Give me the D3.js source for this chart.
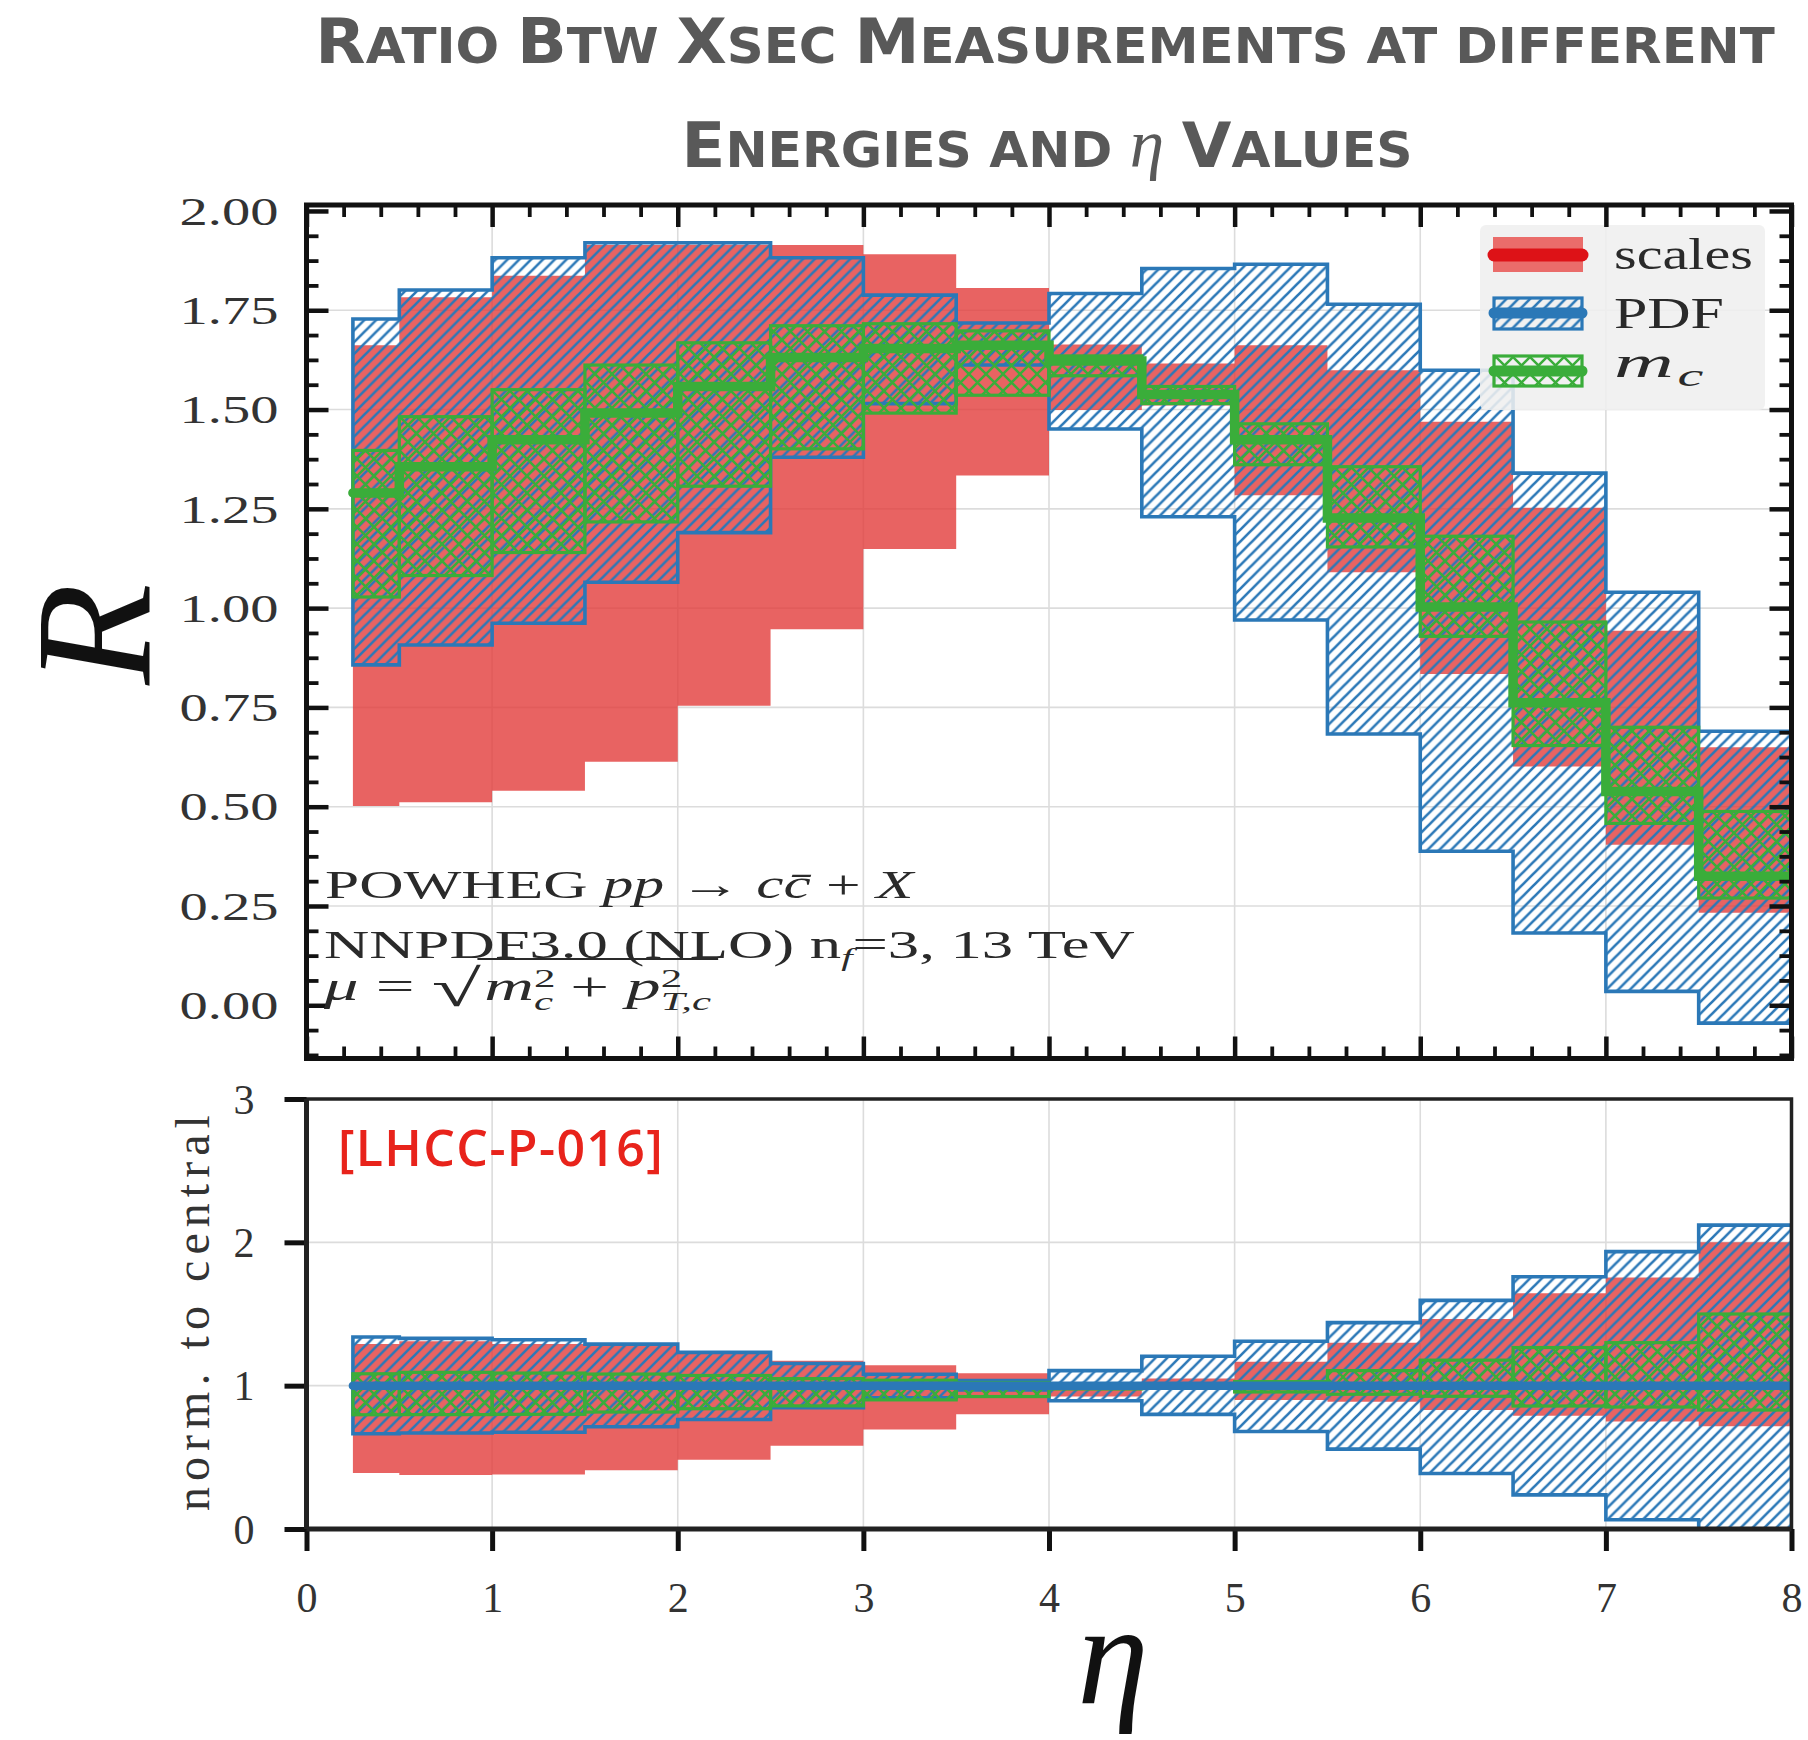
<!DOCTYPE html>
<html><head><meta charset="utf-8">
<script src="https://cdn.jsdelivr.net/npm/d3@7"></script>
<style>
html,body{margin:0;padding:0;background:#fff;}
svg{display:block;}
</style></head>
<body>
<svg id="chart" width="1808" height="1740"></svg>
<script>
// ---- data: eta bins (16 bins, first one is 0.25 wide) ----
const etaEdges = [0.25, 0.5, 1.0, 1.5, 2.0, 2.5, 3.0, 3.5, 4.0, 4.5, 5.0, 5.5, 6.0, 6.5, 7.0, 7.5, 8.0];

// upper panel: ratio R
const centralR = [1.290, 1.356, 1.424, 1.491, 1.558, 1.631, 1.654, 1.662, 1.622, 1.538, 1.424, 1.227, 1.003, 0.762, 0.538, 0.325];
const scalesHiR = [1.662, 1.783, 1.837, 1.914, 1.915, 1.914, 1.891, 1.806, 1.664, 1.616, 1.662, 1.599, 1.469, 1.253, 0.943, 0.650];
const scalesLoR = [0.502, 0.511, 0.540, 0.613, 0.754, 0.947, 1.149, 1.334, 1.499, 1.510, 1.284, 1.090, 0.834, 0.601, 0.404, 0.233];
const pdfHiR    = [1.728, 1.801, 1.882, 1.920, 1.920, 1.882, 1.788, 1.718, 1.792, 1.855, 1.866, 1.765, 1.599, 1.340, 1.040, 0.690];
const pdfLoR    = [0.857, 0.907, 0.962, 1.065, 1.190, 1.380, 1.515, 1.612, 1.451, 1.230, 0.970, 0.683, 0.388, 0.182, 0.035, -0.045];
const mcHiR     = [1.397, 1.482, 1.550, 1.612, 1.668, 1.711, 1.716, 1.698, 1.635, 1.558, 1.464, 1.356, 1.181, 0.965, 0.700, 0.488];
const mcLoR     = [1.028, 1.082, 1.140, 1.217, 1.307, 1.401, 1.491, 1.536, 1.585, 1.515, 1.361, 1.154, 0.929, 0.654, 0.458, 0.270];

// lower panel: normalised to central
const centralN = [1, 1, 1, 1, 1, 1, 1, 1, 1, 1, 1, 1, 1, 1, 1, 1];
const scalesHiN = [1.290, 1.310, 1.290, 1.280, 1.230, 1.174, 1.143, 1.087, 1.026, 1.050, 1.167, 1.300, 1.465, 1.645, 1.755, 2.000];
const scalesLoN = [0.390, 0.377, 0.380, 0.410, 0.484, 0.580, 0.695, 0.800, 0.925, 0.980, 0.900, 0.888, 0.830, 0.790, 0.750, 0.717];
const pdfHiN    = [1.340, 1.330, 1.320, 1.290, 1.232, 1.155, 1.080, 1.035, 1.105, 1.205, 1.310, 1.440, 1.595, 1.760, 1.935, 2.120];
const pdfLoN    = [0.665, 0.670, 0.675, 0.713, 0.764, 0.846, 0.916, 0.970, 0.895, 0.800, 0.680, 0.557, 0.387, 0.238, 0.065, -0.140];
const mcHiN     = [1.083, 1.093, 1.088, 1.081, 1.071, 1.049, 1.038, 1.022, 1.008, 1.013, 1.028, 1.105, 1.178, 1.266, 1.300, 1.500];
const mcLoN     = [0.797, 0.798, 0.800, 0.816, 0.839, 0.859, 0.901, 0.924, 0.977, 0.985, 0.956, 0.940, 0.926, 0.858, 0.851, 0.830];

// ticks
const xTicks = [0, 1, 2, 3, 4, 5, 6, 7, 8];
const xMinorTicks = [0.2, 0.4, 0.6, 0.8, 1.2, 1.4, 1.6, 1.8, 2.2, 2.4, 2.6, 2.8, 3.2, 3.4, 3.6, 3.8, 4.2, 4.4, 4.6, 4.8, 5.2, 5.4, 5.6, 5.8, 6.2, 6.4, 6.6, 6.8, 7.2, 7.4, 7.6, 7.8];
const yTicksUpper = [0, 0.25, 0.5, 0.75, 1.0, 1.25, 1.5, 1.75, 2.0];
const yMinorUpper = [-0.125, -0.0625, 0.0625, 0.125, 0.1875, 0.3125, 0.375, 0.4375, 0.5625, 0.625, 0.6875, 0.8125, 0.875, 0.9375, 1.0625, 1.125, 1.1875, 1.3125, 1.375, 1.4375, 1.5625, 1.625, 1.6875, 1.8125, 1.875, 1.9375];
const yTicksLower = [0, 1, 2, 3];
const legendNames = ["scales", "PDF", "m"];

// ---- colours ----
const RED = "#e23c3b", RED_DARK = "#dd1217", BLUE = "#2b78b7", GREEN = "#3aad3a";
const SERIF = "'Liberation Serif','DejaVu Serif',serif";
const TEXT = "#2a2a2a";

const svg = d3.select("#chart");
const defs = svg.append("defs");

// ---- scales ----
const x = d3.scaleLinear().domain([0, 8]).range([306.5, 1791.5]);
const yU = d3.scaleLinear().domain([-0.134, 2.015]).range([1058.5, 205]);
const yL = d3.scaleLinear().domain([0, 3]).range([1529, 1099]);

function clip(id, ys) {
  const [d0, d1] = ys.domain();
  defs.append("clipPath").attr("id", id).append("rect")
    .attr("x", x(0)).attr("y", ys(d1))
    .attr("width", x(8) - x(0)).attr("height", ys(d0) - ys(d1));
}
clip("clipU", yU);
clip("clipL", yL);

function hatch(id, size, color, width, cross) {
  const p = defs.append("pattern").attr("id", id).attr("patternUnits", "userSpaceOnUse")
    .attr("width", size).attr("height", size);
  const s = size, q = size / 4;
  let d = `M0,${s} L${s},0 M${-q},${q} L${q},${-q} M${s - q},${s + q} L${s + q},${s - q}`;
  if (cross) d += ` M0,0 L${s},${s} M${-q},${s - q} L${q},${s + q} M${s - q},${-q} L${s + q},${q}`;
  p.append("path").attr("d", d).attr("stroke", color).attr("stroke-width", width).attr("fill", "none");
}
hatch("pdfHatch", 11.8, BLUE, 2.6, false);
hatch("mcHatch", 17, GREEN, 2.5, true);

// horizontal stretch of a text element about its anchor point
function stretch(sel, sx) {
  sel.each(function () {
    const t = d3.select(this);
    const ax = +t.attr("x") || 0;
    t.attr("transform", `translate(${ax},0) scale(${sx},1) translate(${-ax},0)`);
  });
}
function stretchTo(sel, target) {
  const w = sel.node().getBBox().width;
  stretch(sel, target / w);
}
function fitWidth(sel, target) {
  const node = sel.node();
  const n = node.getNumberOfChars();
  const w = node.getBBox().width;
  sel.attr("letter-spacing", ((target - w) / n).toFixed(2));
}

// ---- one histogram panel ----
function drawPanel(ys, clipId, d, centralColor, centralWidth, gridY) {
  const g = svg.append("g");
  // grid
  g.append("g").selectAll("line").data(gridY).join("line")
    .attr("x1", x(0)).attr("x2", x(8)).attr("y1", v => ys(v)).attr("y2", v => ys(v))
    .attr("stroke", "#dcdcdc").attr("stroke-width", 1.6);
  g.append("g").selectAll("line").data([1, 2, 3, 4, 5, 6, 7]).join("line")
    .attr("x1", v => x(v)).attr("x2", v => x(v)).attr("y1", ys.range()[0]).attr("y2", ys.range()[1])
    .attr("stroke", "#dcdcdc").attr("stroke-width", 1.6);

  const data = g.append("g").attr("clip-path", `url(#${clipId})`);
  const pts = (hi, lo) => etaEdges.map((e, i) => ({ x: e, hi: hi[Math.min(i, hi.length - 1)], lo: lo[Math.min(i, lo.length - 1)] }));
  const area = d3.area().curve(d3.curveStepAfter).x(p => x(p.x)).y0(p => ys(p.lo)).y1(p => ys(p.hi));

  // scale variation band
  data.append("path").attr("d", area(pts(d.scalesHi, d.scalesLo)))
    .attr("fill", RED).attr("fill-opacity", 0.8);
  // PDF band
  data.append("path").attr("d", area(pts(d.pdfHi, d.pdfLo)))
    .attr("fill", "url(#pdfHatch)").attr("stroke", BLUE).attr("stroke-width", 3.6);
  // charm mass band, drawn bin by bin
  const bins = d3.range(etaEdges.length - 1);
  data.append("g").selectAll("rect").data(bins).join("rect")
    .attr("x", i => x(etaEdges[i])).attr("width", i => x(etaEdges[i + 1]) - x(etaEdges[i]))
    .attr("y", i => ys(d.mcHi[i])).attr("height", i => ys(d.mcLo[i]) - ys(d.mcHi[i]))
    .attr("fill", "url(#mcHatch)").attr("stroke", GREEN).attr("stroke-width", 3.2);
  // central prediction
  const line = d3.line().curve(d3.curveStepAfter).x(p => x(p.x)).y(p => ys(p.v));
  data.append("path")
    .attr("d", line(etaEdges.map((e, i) => ({ x: e, v: d.central[Math.min(i, d.central.length - 1)] }))))
    .attr("fill", "none").attr("stroke", centralColor).attr("stroke-width", centralWidth)
    .attr("stroke-linecap", "round");
  return g;
}

// upper panel
drawPanel(yU, "clipU",
  { central: centralR, scalesHi: scalesHiR, scalesLo: scalesLoR, pdfHi: pdfHiR, pdfLo: pdfLoR, mcHi: mcHiR, mcLo: mcLoR },
  GREEN, 9.5, yTicksUpper.slice(1, -1));

// lower panel
drawPanel(yL, "clipL",
  { central: centralN, scalesHi: scalesHiN, scalesLo: scalesLoN, pdfHi: pdfHiN, pdfLo: pdfLoN, mcHi: mcHiN, mcLo: mcLoN },
  BLUE, 8.5, [1, 2]);

// ---- legend (upper panel, top right) ----
const leg = svg.append("g");
leg.append("rect").attr("x", 1480).attr("y", 225).attr("width", 285).attr("height", 185)
  .attr("rx", 6).attr("fill", "#efefef").attr("fill-opacity", 0.88);
// scales handle
leg.append("rect").attr("x", 1493).attr("y", 237).attr("width", 90).attr("height", 35).attr("fill", "#ea6c6a");
leg.append("line").attr("x1", 1494).attr("x2", 1582).attr("y1", 255).attr("y2", 255)
  .attr("stroke", RED_DARK).attr("stroke-width", 13).attr("stroke-linecap", "round");
// PDF handle
leg.append("rect").attr("x", 1494).attr("y", 298).attr("width", 88).attr("height", 31)
  .attr("fill", "url(#pdfHatch)").attr("stroke", BLUE).attr("stroke-width", 3.2);
leg.append("line").attr("x1", 1494).attr("x2", 1582).attr("y1", 313).attr("y2", 313)
  .attr("stroke", BLUE).attr("stroke-width", 11).attr("stroke-linecap", "round");
// m_c handle
leg.append("rect").attr("x", 1494).attr("y", 356).attr("width", 88).attr("height", 30)
  .attr("fill", "url(#mcHatch)").attr("stroke", GREEN).attr("stroke-width", 3.2);
leg.append("line").attr("x1", 1494).attr("x2", 1582).attr("y1", 371).attr("y2", 371)
  .attr("stroke", GREEN).attr("stroke-width", 11).attr("stroke-linecap", "round");

const legText = (y) => leg.append("text").attr("x", 1614).attr("y", y)
  .attr("font-family", SERIF).attr("font-size", 44).attr("fill", TEXT);
stretchTo(legText(269).text(legendNames[0]), 139);
stretchTo(legText(328).text(legendNames[1]), 110);
const mcT = legText(377);
mcT.append("tspan").attr("font-style", "italic").text(legendNames[2]);
mcT.append("tspan").attr("font-style", "italic").attr("font-size", 31).attr("dy", 9).attr("dx", 2).text("c");
stretchTo(mcT, 90);

// ---- axes: upper panel (inward ticks on all four sides) ----
function styleTicks(g, w) {
  g.select(".domain").remove();
  g.selectAll(".tick line").attr("stroke", "#111").attr("stroke-width", w);
}
const up = svg.append("g");
up.append("g").attr("transform", `translate(${x(0)},0)`)
  .call(d3.axisLeft(yU).tickValues(yTicksUpper).tickSize(-22).tickPadding(28).tickFormat(d3.format(".2f")))
  .call(g => styleTicks(g, 4.5))
  .call(g => g.selectAll("text").attr("font-family", SERIF).attr("font-size", 39)
    .attr("fill", "#333").attr("dy", "0.34em"))
  .call(g => stretch(g.selectAll("text"), 1.45));
up.append("g").attr("transform", `translate(${x(0)},0)`)
  .call(d3.axisLeft(yU).tickValues(yMinorUpper).tickSize(-12).tickFormat(""))
  .call(g => styleTicks(g, 3.8));
up.append("g").attr("transform", `translate(${x(8)},0)`)
  .call(d3.axisRight(yU).tickValues(yTicksUpper).tickSize(-22).tickFormat(""))
  .call(g => styleTicks(g, 4.5));
up.append("g").attr("transform", `translate(${x(8)},0)`)
  .call(d3.axisRight(yU).tickValues(yMinorUpper).tickSize(-12).tickFormat(""))
  .call(g => styleTicks(g, 3.8));
[[d3.axisTop, yU.range()[1]], [d3.axisBottom, yU.range()[0]]].forEach(([ax, yy]) => {
  up.append("g").attr("transform", `translate(0,${yy})`)
    .call(ax(x).tickValues(xTicks).tickSize(-22).tickFormat(""))
    .call(g => styleTicks(g, 4.5));
  up.append("g").attr("transform", `translate(0,${yy})`)
    .call(ax(x).tickValues(xMinorTicks).tickSize(-12).tickFormat(""))
    .call(g => styleTicks(g, 3.8));
});
up.append("rect").attr("x", x(0)).attr("y", yU.range()[1])
  .attr("width", x(8) - x(0)).attr("height", yU.range()[0] - yU.range()[1])
  .attr("fill", "none").attr("stroke", "#111").attr("stroke-width", 5);

// ---- axes: lower panel (outward ticks, left and bottom) ----
const lo = svg.append("g");
lo.append("rect").attr("x", x(0)).attr("y", yL.range()[1])
  .attr("width", x(8) - x(0)).attr("height", yL.range()[0] - yL.range()[1])
  .attr("fill", "none").attr("stroke", "#222").attr("stroke-width", 3.5);
lo.append("g").attr("transform", `translate(${x(0)},0)`)
  .call(d3.axisLeft(yL).tickValues(yTicksLower).tickSize(22).tickPadding(30).tickFormat(d3.format("d")))
  .call(g => styleTicks(g, 5))
  .call(g => g.selectAll("text").attr("font-family", SERIF).attr("font-size", 42).attr("fill", "#333").attr("dy", "0.34em"));
lo.append("g").attr("transform", `translate(0,${yL(0)})`)
  .call(d3.axisBottom(x).tickValues(xTicks).tickSize(22).tickPadding(31).tickFormat(d3.format("d")))
  .call(g => styleTicks(g, 5))
  .call(g => g.selectAll("text").attr("font-family", SERIF).attr("font-size", 42).attr("fill", "#333"));
lo.append("line").attr("x1", x(0)).attr("x2", x(8)).attr("y1", yL(0)).attr("y2", yL(0))
  .attr("stroke", "#222").attr("stroke-width", 5);
lo.append("line").attr("x1", x(0)).attr("x2", x(0)).attr("y1", yL(0)).attr("y2", yL(3))
  .attr("stroke", "#222").attr("stroke-width", 5);

// ---- annotation inside the upper panel ----
const ann = svg.append("g").attr("font-family", SERIF).attr("font-size", 40).attr("fill", TEXT);
function annLine(y) {
  const g = ann.append("g");
  const t = g.append("text").attr("x", 0).attr("y", y);
  return [g, t];
}
function placeLine(g, t, x0, target) {
  const w = t.node().getBBox().width;
  g.attr("transform", `translate(${x0},0) scale(${target / w},1)`);
}
{
  const [g, t] = annLine(898);
  t.append("tspan").text("POWHEG ");
  t.append("tspan").attr("font-style", "italic").text("pp");
  t.append("tspan").text(" \u2192 ");
  t.append("tspan").attr("font-style", "italic").text("c");
  t.append("tspan").attr("font-style", "italic").text("c\u0304");
  t.append("tspan").text(" + ");
  t.append("tspan").attr("font-style", "italic").text("X");
  placeLine(g, t, 325, 591);
}
{
  const [g, t] = annLine(958);
  t.append("tspan").text("NNPDF3.0 (NLO) n");
  t.append("tspan").attr("font-style", "italic").attr("font-size", 26).attr("dy", 8).text("f");
  t.append("tspan").attr("dy", -8).text("=3, 13 TeV");
  placeLine(g, t, 324, 811);
}
{
  const [g, t] = annLine(1000);
  t.append("tspan").attr("font-style", "italic").text("\u03bc");
  t.append("tspan").text(" = ");
  t.append("tspan").attr("font-size", 52).attr("dy", 6).text("\u221a");
  t.append("tspan").attr("font-style", "italic").attr("dy", -6).attr("dx", 2).text("m");
  t.append("tspan").attr("font-size", 25).attr("dy", -13).text("2");
  t.append("tspan").attr("font-style", "italic").attr("font-size", 25).attr("dx", -12.5).attr("dy", 23).text("c");
  t.append("tspan").attr("dy", -10).text(" + ");
  t.append("tspan").attr("font-style", "italic").text("p");
  t.append("tspan").attr("font-size", 25).attr("dy", -13).text("2");
  t.append("tspan").attr("font-style", "italic").attr("font-size", 25).attr("dx", -12.5).attr("dy", 23).text("T,c");
  // vinculum of the square root, from the radical sign to the end of the line
  const node = t.node();
  const idx = node.textContent.indexOf("\u221a");
  const ext = node.getExtentOfChar(idx);
  const bb = node.getBBox();
  g.append("line").attr("x1", ext.x + ext.width - 2).attr("x2", bb.x + bb.width + 4)
    .attr("y1", 959).attr("y2", 959).attr("stroke", TEXT).attr("stroke-width", 2.2);
  placeLine(g, t, 324, 389);
}

// ---- labels ----
svg.append("text").attr("transform", "translate(150,634) rotate(-90)")
  .attr("text-anchor", "middle").attr("font-family", SERIF).attr("font-style", "italic")
  .attr("font-size", 166).attr("fill", "#111").text("R");
svg.append("text").attr("x", 1113).attr("y", 1703)
  .attr("text-anchor", "middle").attr("font-family", SERIF).attr("font-style", "italic")
  .attr("font-size", 144).attr("fill", "#111").text("\u03b7");
const yl = svg.append("text").attr("transform", "translate(209,1310) rotate(-90)")
  .attr("text-anchor", "middle").attr("font-family", SERIF).attr("font-size", 48)
  .attr("fill", "#333").text("norm. to central");
fitWidth(yl, 402);

svg.append("text").attr("x", 338).attr("y", 1166)
  .attr("font-family", "'Open Sans','DejaVu Sans',sans-serif").attr("font-weight", 600)
  .attr("font-size", 50).attr("fill", "#e8231b").text("[LHCC-P-016]")
  .call(s => fitWidth(s, 326));

// ---- title in small capitals ----
function smallCapsLine(parts, cx, baseline, target) {
  const t = svg.append("text").attr("text-anchor", "middle")
    .attr("font-family", "'DejaVu Sans',sans-serif").attr("font-weight", "bold").attr("fill", "#595959");
  parts.forEach(([s, kind]) => {
    const sp = t.append("tspan").text(s);
    if (kind === "big") sp.attr("font-size", 63);
    else if (kind === "small") sp.attr("font-size", 49.5);
    else sp.attr("font-size", 68).attr("font-family", SERIF).attr("font-style", "italic").attr("font-weight", "normal");
  });
  const w = t.node().getBBox().width;
  t.attr("transform", `translate(${cx},${baseline}) scale(${target / w},1)`);
}
smallCapsLine([["R", "big"], ["ATIO ", "small"], ["B", "big"], ["TW ", "small"], ["X", "big"], ["SEC ", "small"],
  ["M", "big"], ["EASUREMENTS AT DIFFERENT", "small"]], 1045, 63, 1460);
smallCapsLine([["E", "big"], ["NERGIES AND ", "small"], ["\u03b7", "math"], [" ", "small"], ["V", "big"], ["ALUES", "small"]],
  1047, 167, 731);
</script>
</body></html>
